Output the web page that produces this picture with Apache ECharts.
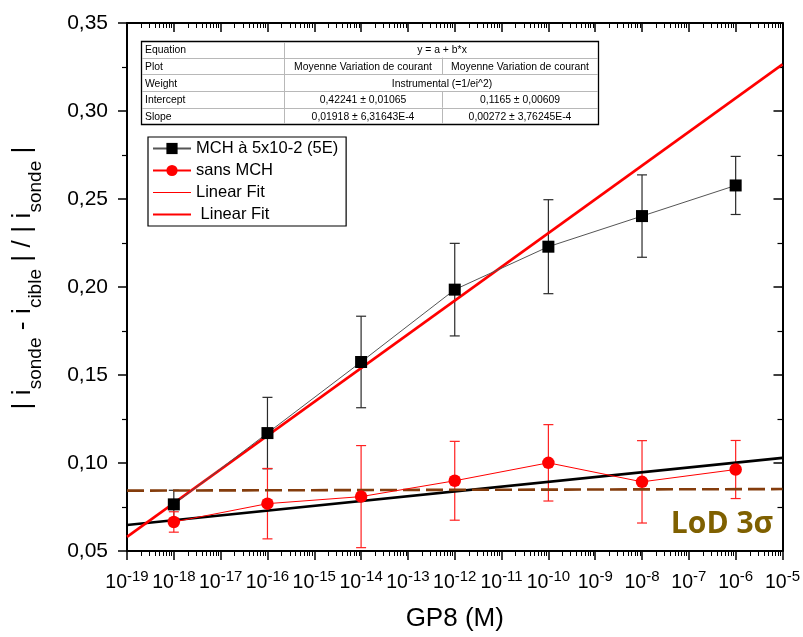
<!DOCTYPE html>
<html><head><meta charset="utf-8">
<script src="https://cdn.jsdelivr.net/npm/echarts@6/dist/echarts.min.js"></script>
<style>html,body{margin:0;padding:0;background:#fff}#c{width:803px;height:637px}</style>
</head><body><div id="c"></div>
<script>
// ---- data (x = log10 of GP8 concentration in M) ----
const concExp   = [-18, -16, -14, -12, -10, -8, -6];
const mchMean   = [0.0765, 0.117, 0.1574, 0.1985, 0.2229, 0.2403, 0.2577];
const mchErr    = [0.0080, 0.0203, 0.0260, 0.0263, 0.0267, 0.0234, 0.0165];
const sansMean  = [0.0665, 0.0769, 0.0809, 0.0899, 0.1001, 0.0893, 0.0963];
const sansErr   = [0.0058, 0.0200, 0.0290, 0.0224, 0.0217, 0.0234, 0.0165];
const fitX      = [-19, -5];
const fitMchY   = [0.0580, 0.3265];
const fitSansY  = [0.0648, 0.1029];
const lodY      = [0.0843, 0.0852];
const xMin = -19, xMax = -5;
const yMin = 0.05, yMax = 0.35, yStep = 0.05;
const nameMch = 'MCH à 5x10-2 (5E)';
const nameSans = 'sans MCH';
const nameFit1 = 'Linear Fit';
const nameFit2 = ' Linear Fit';
const tableRows = [
  ['Equation', 'y = a + b*x', null],
  ['Plot', 'Moyenne Variation de courant', 'Moyenne Variation de courant'],
  ['Weight', 'Instrumental (=1/ei^2)', null],
  ['Intercept', '0,42241 ± 0,01065', '0,1165 ± 0,00609'],
  ['Slope', '0,01918 ± 6,31643E-4', '0,00272 ± 3,76245E-4']
];
const lodText = 'LoD 3σ';

const FONT = 'Liberation Sans, Arial, sans-serif';
const minorVals = [];
for (let n = xMin; n < xMax; n++) for (let k = 2; k <= 9; k++) minorVals.push(n + Math.log10(k));

function pairs(xs, ys) { return xs.map((x, i) => [x, ys[i]]); }
function errData(m, e) { return concExp.map((x, i) => [x, m[i] - e[i], m[i] + e[i]]); }
function errRender(color) {
  return function (params, api) {
    const x = api.value(0);
    const top = api.coord([x, api.value(2)]);
    const bot = api.coord([x, api.value(1)]);
    const w = 5;
    const st = { stroke: color, lineWidth: 1.2 };
    return { type: 'group', children: [
      { type: 'line', shape: { x1: top[0], y1: top[1], x2: bot[0], y2: bot[1] }, style: st },
      { type: 'line', shape: { x1: top[0] - w, y1: top[1], x2: top[0] + w, y2: top[1] }, style: st },
      { type: 'line', shape: { x1: bot[0] - w, y1: bot[1], x2: bot[0] + w, y2: bot[1] }, style: st }
    ]};
  };
}

// table graphic
const tx = [141, 284, 442, 598];
const ty = [41, 57.6, 74.3, 91, 107.6, 124];
const g = [];
g.push({ type: 'rect', z: 100, shape: { x: tx[0] + 0.5, y: ty[0] + 0.5, width: tx[3] - tx[0], height: ty[5] - ty[0] },
  style: { fill: '#fff', stroke: '#000', lineWidth: 1.3 } });
for (let r = 1; r < 5; r++) {
  g.push({ type: 'line', z: 101, shape: { x1: tx[0] + 1, y1: Math.round(ty[r]) + 0.5, x2: tx[3], y2: Math.round(ty[r]) + 0.5 },
    style: { stroke: '#b8b8b8', lineWidth: 1 } });
}
g.push({ type: 'line', z: 101, shape: { x1: tx[1] + 0.5, y1: ty[0] + 1, x2: tx[1] + 0.5, y2: ty[5] }, style: { stroke: '#b8b8b8', lineWidth: 1 } });
tableRows.forEach((row, r) => {
  const yc = (ty[r] + ty[r + 1]) / 2 + 1;
  if (row[2] !== null) {
    g.push({ type: 'line', z: 101, shape: { x1: tx[2] + 0.5, y1: ty[r], x2: tx[2] + 0.5, y2: ty[r + 1] }, style: { stroke: '#b8b8b8', lineWidth: 1 } });
  }
  const mk = (t, x, al) => ({ type: 'text', z: 102, x: x, y: yc,
    style: { text: t, font: '10.4px ' + FONT, fill: '#000', textAlign: al, textVerticalAlign: 'middle', align: al, verticalAlign: 'middle' } });
  g.push(mk(row[0], tx[0] + 4, 'left'));
  if (row[2] === null) {
    g.push(mk(row[1], tx[2], 'center'));
  } else {
    g.push(mk(row[1], (tx[1] + tx[2]) / 2, 'center'));
    g.push(mk(row[2], (tx[2] + tx[3]) / 2, 'center'));
  }
});
g.push({ type: 'text', z: 102, x: 722, y: 524,
  style: { text: lodText, font: 'bold 30px "Open Sans", sans-serif', fill: '#7f6000', textAlign: 'center', textVerticalAlign: 'middle', align: 'center', verticalAlign: 'middle' } });

const axisLine = { show: true, onZero: false, lineStyle: { color: '#000', width: 2 } };
const xBase = { type: 'value', min: xMin, max: xMax, splitLine: { show: false } };
const hiddenIcon = { color: 'rgba(0,0,0,0)', borderColor: 'rgba(0,0,0,0)', borderWidth: 0 };

const chart = echarts.init(document.getElementById('c'), null, { renderer: 'canvas' });
chart.setOption({
  animation: false,
  backgroundColor: '#fff',
  textStyle: { fontFamily: FONT },
  grid: { left: 127, right: 19, top: 23, bottom: 84, containLabel: false },
  xAxis: [
    Object.assign({}, xBase, {
      position: 'bottom', interval: 1, axisLine: axisLine,
      axisTick: { show: true, inside: false, length: 9, lineStyle: { color: '#000', width: 1.5 } },
      axisLabel: {
        show: true, margin: 18, color: '#000',
        formatter: v => '{b|10}{s|' + Math.round(v) + '}',
        rich: {
          b: { fontSize: 19.5, lineHeight: 20, padding: [7, 0, 0, 0], fontFamily: FONT, color: '#000' },
          s: { fontSize: 15, lineHeight: 15, verticalAlign: 'top', fontFamily: FONT, color: '#000' }
        }
      },
      name: 'GP8 (M)', nameLocation: 'middle', nameGap: 55,
      nameTextStyle: { fontSize: 26, color: '#000', fontFamily: FONT }
    }),
    Object.assign({}, xBase, {
      position: 'bottom', axisLine: { show: false, onZero: false }, axisLabel: { show: false },
      axisTick: { show: true, inside: false, length: 5, customValues: minorVals, lineStyle: { color: '#000', width: 1 } }
    }),
    Object.assign({}, xBase, {
      position: 'top', interval: 1, axisLine: axisLine, axisLabel: { show: false },
      axisTick: { show: true, inside: true, length: 9, lineStyle: { color: '#000', width: 1.5 } }
    }),
    Object.assign({}, xBase, {
      position: 'top', axisLine: { show: false, onZero: false }, axisLabel: { show: false },
      axisTick: { show: true, inside: true, length: 5, customValues: minorVals, lineStyle: { color: '#000', width: 1 } }
    })
  ],
  yAxis: [
    {
      type: 'value', position: 'left', min: yMin, max: yMax, interval: yStep,
      axisLine: axisLine, splitLine: { show: false },
      axisTick: { show: true, inside: false, length: 9, lineStyle: { color: '#000', width: 1.5 } },
      minorTick: { show: true, splitNumber: 2, length: 5, lineStyle: { color: '#000', width: 1.2 } },
      axisLabel: { margin: 19, fontSize: 21, color: '#000', fontFamily: FONT, formatter: v => v.toFixed(2).replace('.', ',') },
      name: '{m|| i}{u|sonde}{m| - i}{u|cible}{m| | / | i}{u|sonde}{m| |}',
      nameLocation: 'middle', nameRotate: 90, nameGap: 82,
      nameTextStyle: {
        padding: [0, 0, 0, 18],
        rich: {
          m: { fontSize: 26.5, lineHeight: 27, verticalAlign: 'top', fontFamily: FONT, color: '#000' },
          u: { fontSize: 19, padding: [17, 0, 0, 0], verticalAlign: 'bottom', fontFamily: FONT, color: '#000' }
        }
      }
    },
    {
      type: 'value', position: 'right', min: yMin, max: yMax, interval: yStep,
      axisLine: axisLine, splitLine: { show: false }, axisLabel: { show: false },
      axisTick: { show: true, inside: true, length: 9, lineStyle: { color: '#000', width: 1.5 } },
      minorTick: { show: true, splitNumber: 2, length: 5, lineStyle: { color: '#000', width: 1.2 } }
    }
  ],
  legend: {
    show: true, orient: 'vertical', left: 148, top: 137,
    padding: [3, 8, 3, 4], itemGap: 5, itemWidth: 38, itemHeight: 14,
    borderColor: '#000', borderWidth: 1.2, backgroundColor: '#fff',
    textStyle: { fontSize: 16.5, color: '#000', fontFamily: FONT },
    data: [
      { name: nameMch },
      { name: nameSans },
      { name: nameFit1, lineStyle: { color: '#ff0000', width: 1 }, itemStyle: hiddenIcon },
      { name: nameFit2, itemStyle: hiddenIcon }
    ],
    z: 50
  },
  graphic: g,
  series: [
    { name: nameFit1, type: 'line', data: pairs(fitX, fitSansY), symbol: 'none', z: 3,
      lineStyle: { color: '#000', width: 2.6 }, itemStyle: { color: '#000' } },
    { name: nameFit2, type: 'line', data: pairs(fitX, fitMchY), symbol: 'none', z: 4,
      lineStyle: { color: '#ff0000', width: 2.6 }, itemStyle: { color: '#ff0000' } },
    { name: 'LoD', type: 'line', data: pairs(fitX, lodY), symbol: 'none', z: 3,
      lineStyle: { color: '#843c0c', width: 2.6, type: [17, 6] } },
    { name: 'errMch', type: 'custom', renderItem: errRender('#2a2a2a'), data: errData(mchMean, mchErr),
      encode: { x: 0, y: [1, 2] }, z: 2, clip: false },
    { name: 'errSans', type: 'custom', renderItem: errRender('#ff2020'), data: errData(sansMean, sansErr),
      encode: { x: 0, y: [1, 2] }, z: 2, clip: false },
    { name: nameMch, type: 'line', data: pairs(concExp, mchMean), symbol: 'rect', symbolSize: 12, z: 5,
      lineStyle: { color: '#555', width: 1 }, itemStyle: { color: '#000' } },
    { name: nameSans, type: 'line', data: pairs(concExp, sansMean), symbol: 'circle', symbolSize: 12.5, z: 5,
      lineStyle: { color: '#ff0000', width: 1 }, itemStyle: { color: '#ff0000' } }
  ]
});
</script></body></html>
